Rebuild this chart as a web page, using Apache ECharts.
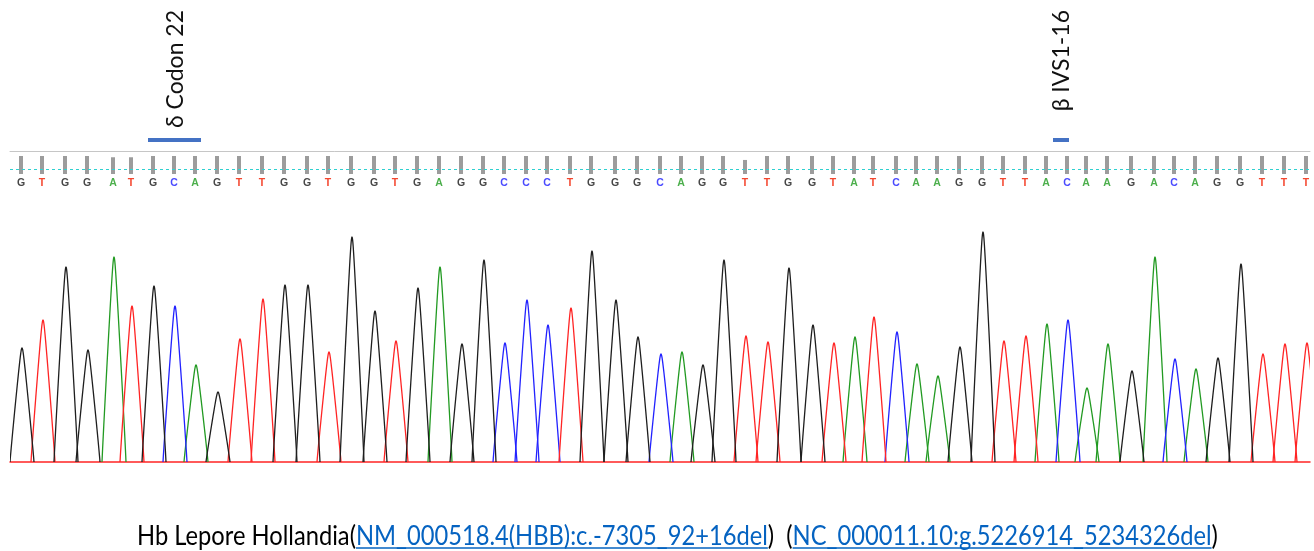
<!DOCTYPE html>
<html><head><meta charset="utf-8">
<script src="https://cdn.jsdelivr.net/npm/echarts@6/dist/echarts.min.js"></script>
<style>html,body{margin:0;padding:0;background:#fff}#chart{width:1314px;height:551px}</style>
</head><body><div id="chart"></div>
<script>
// ---- data ----
const bases = "GTGGATGCAGTTGGTGGTGAGGCCCTGGGCAGGTTGGTATCAAGGTTACAAGACAGGTTT".split('');
// peak positions along the trace (scan units)
const peakPos = [
  6,16.5,28,39,52,61,72,82.5,93,104,
  115,126.5,137.5,149,159.5,171,182.5,193,204,215,
  226,237,247.5,258.5,269,280.5,291,303,314,325.5,
  336,346.5,357,368,379,389.5,401.5,412,422.5,432,
  443.5,453.5,464,475,486.5,497,508,518.5,529,538.5,
  549,561,572.5,582.5,593,604,615.5,626.5,637.5,648.5
];
// peak heights (RFU)
const peakHeight = [
  1140,1420,1950,1120,2050,1560,1760,1560,970,700,
  1230,1630,1770,1770,1100,2250,1510,1210,1740,1950,
  1180,2020,1190,1620,1370,1540,2110,1620,1250,1080,
  1100,970,2020,1260,1200,1940,1370,1190,1250,1450,
  1300,980,860,1150,2300,1210,1260,1380,1420,740,
  1180,910,2050,1030,930,1040,1980,1080,1180,1190
];
// base-call quality bars (relative)
const quality = [
  1,1,1,1,0.93,0.93,1,1,1,1,
  1,1,1,1,1,1,1,1,1,1,
  1,1,1,1,1,1,1,1,1,1,
  1,1,1,0.78,1,1,1,1,1,1,
  1,1,1,1,1,1,1,1,1,1,
  1,1,1,1,1,1,1,1,1,1
];
const annotationLabels = ['δ Codon 22', 'β IVS1-16'];
const annotationFrom = [69, 521.5];
const annotationTo = [95.5, 529.5];
const captionTexts = ['Hb Lepore Hollandia(', 'NM_000518.4(HBB):c.-7305_92+16del', ')  (', 'NC_000011.10:g.5226914_5234326del', ')'];
const captionLinks = [false, true, false, true, false];

// ---- style ----
const SCAN_MAX = 650;
const HALF_BASE = 6;      // peak half-width at baseline (scans)
const PEAK_EXP = 0.95;
const TOP_ROUND = 0.1;
const channels = ['A', 'C', 'T', 'G'];
const traceColors = {G:'#1e1e1e', A:'#229a22', T:'#ff2424', C:'#2222ff'};
const labelColors = {G:'#474747', A:'#4caf4c', T:'#f4462e', C:'#4a4aff'};

const mctx = document.createElement('canvas').getContext('2d');
function textW(t, font){ mctx.font = font; return mctx.measureText(t).width; }
const FONT_FAM = 'Lato, "Noto Sans", sans-serif';

function profile(u){
  const g = Math.sqrt(u*u + TOP_ROUND*TOP_ROUND) - TOP_ROUND;
  const g1 = Math.sqrt(1 + TOP_ROUND*TOP_ROUND) - TOP_ROUND;
  const v = Math.max(0, 1 - g/g1);
  return Math.pow(v, PEAK_EXP);
}

function peakSeries(ch){
  const data = [];
  bases.forEach((b,i)=>{ if(b===ch) data.push([peakPos[i], peakHeight[i]]); });
  return {
    type:'custom', xAxisIndex:0, yAxisIndex:0, clip:true, silent:true, z: 3,
    data,
    renderItem(params, api){
      const p = api.value(0), h = api.value(1);
      const pts = [];
      for(let k=-40;k<=40;k++){
        const u = k/40;
        pts.push(api.coord([p + u*HALF_BASE, h*profile(u)]));
      }
      return {type:'polyline', shape:{points:pts}, style:{stroke:traceColors[ch], fill:null, lineWidth:1.3, lineJoin:'round'}};
    }
  };
}

// annotation font fitted to the label length of the reference
const annSize = 21 * 118 / textW(annotationLabels[0], '21px ' + FONT_FAM);
const annFont = annSize.toFixed(2) + 'px ' + FONT_FAM;

const series = channels.map(peakSeries);
series.push({
  type:'custom', xAxisIndex:1, yAxisIndex:1, silent:true, z:2,
  data: bases.map((b,i)=>[peakPos[i], quality[i], i]),
  renderItem(params, api){
    const x = api.coord([api.value(0), 0])[0] - 1;
    const cs = params.coordSys;
    const bottom = cs.y + 23;
    const h = 18*api.value(1);
    const b = bases[api.value(2)];
    return {type:'group', children:[
      {type:'rect', shape:{x:x-2, y:bottom-h, width:4, height:h}, style:{fill:'#9c9c9c'}},
      {type:'text', x:x, y:cs.y+32, style:{text:b, fill:labelColors[b], font:'bold 10.5px "Liberation Sans", Arial, sans-serif', align:'center', verticalAlign:'middle'}}
    ]};
  },
  markLine:{
    silent:true, symbol:['none','none'], animation:false, z:5,
    label:{show:false},
    lineStyle:{type:[3,3], color:'#2fd0d0', width:1.2, opacity:1},
    emphasis:{disabled:true},
    data:[{yAxis:16}]
  }
});
series.push({
  type:'custom', xAxisIndex:1, yAxisIndex:1, silent:true, z:4,
  data: annotationLabels.map((l,i)=>[annotationFrom[i], annotationTo[i]]),
  renderItem(params, api){
    const i = params.dataIndex;
    const x0 = api.coord([api.value(0),0])[0], x1 = api.coord([api.value(1),0])[0];
    const cs = params.coordSys;
    return {type:'group', children:[
      {type:'rect', shape:{x:x0, y:cs.y-13, width:x1-x0, height:4}, style:{fill:'#4472c4'}},
      {type:'text', x:(x0+x1)/2+1, y:10, rotation:Math.PI/2,
       style:{text:annotationLabels[i], fill:'#111', font:annFont, align:'right', verticalAlign:'middle'}}
    ]};
  }
});

// caption
const capFontBase = 28;
const fullCap = captionTexts.join('');
const capSize = capFontBase * 1081 / textW(fullCap, capFontBase + 'px ' + FONT_FAM);
const capFont = capSize.toFixed(2) + 'px ' + FONT_FAM;
const graphics = [];
let cx = 137;
captionTexts.forEach((t,i)=>{
  const wd = textW(t, capFont);
  const col = captionLinks[i] ? '#0563c1' : '#000';
  graphics.push({type:'text', x:cx, y:537, scaleY:1.1, originY:0, style:{text:t, font:capFont, fill:col, verticalAlign:'middle', align:'left'}});
  if (captionLinks[i]) graphics.push({type:'line', shape:{x1:cx, y1:548, x2:cx+wd, y2:548}, style:{stroke:'#0563c1', lineWidth:1.5}});
  cx += wd;
});

const chart = echarts.init(document.getElementById('chart'));
chart.setOption({
  animation:false,
  backgroundColor:'#fff',
  grid:[
    {left:10, width:1300, top:222, height:240},
    {left:10, width:1300, top:151, height:34}
  ],
  xAxis:[
    {gridIndex:0, type:'value', min:0, max:SCAN_MAX, axisLine:{show:true, onZero:false, lineStyle:{color:'#ff2424', width:1.5}}, axisTick:{show:false}, axisLabel:{show:false}, splitLine:{show:false}},
    {gridIndex:1, type:'value', min:0, max:SCAN_MAX, position:'top', axisLine:{show:true, onZero:false, lineStyle:{color:'#c6c6c6', width:1}}, axisTick:{show:false}, axisLabel:{show:false}, splitLine:{show:false}}
  ],
  yAxis:[
    {gridIndex:0, type:'value', min:0, max:2400, show:false},
    {gridIndex:1, type:'value', min:0, max:34, show:false}
  ],
  series,
  graphic: graphics
});
</script></body></html>
